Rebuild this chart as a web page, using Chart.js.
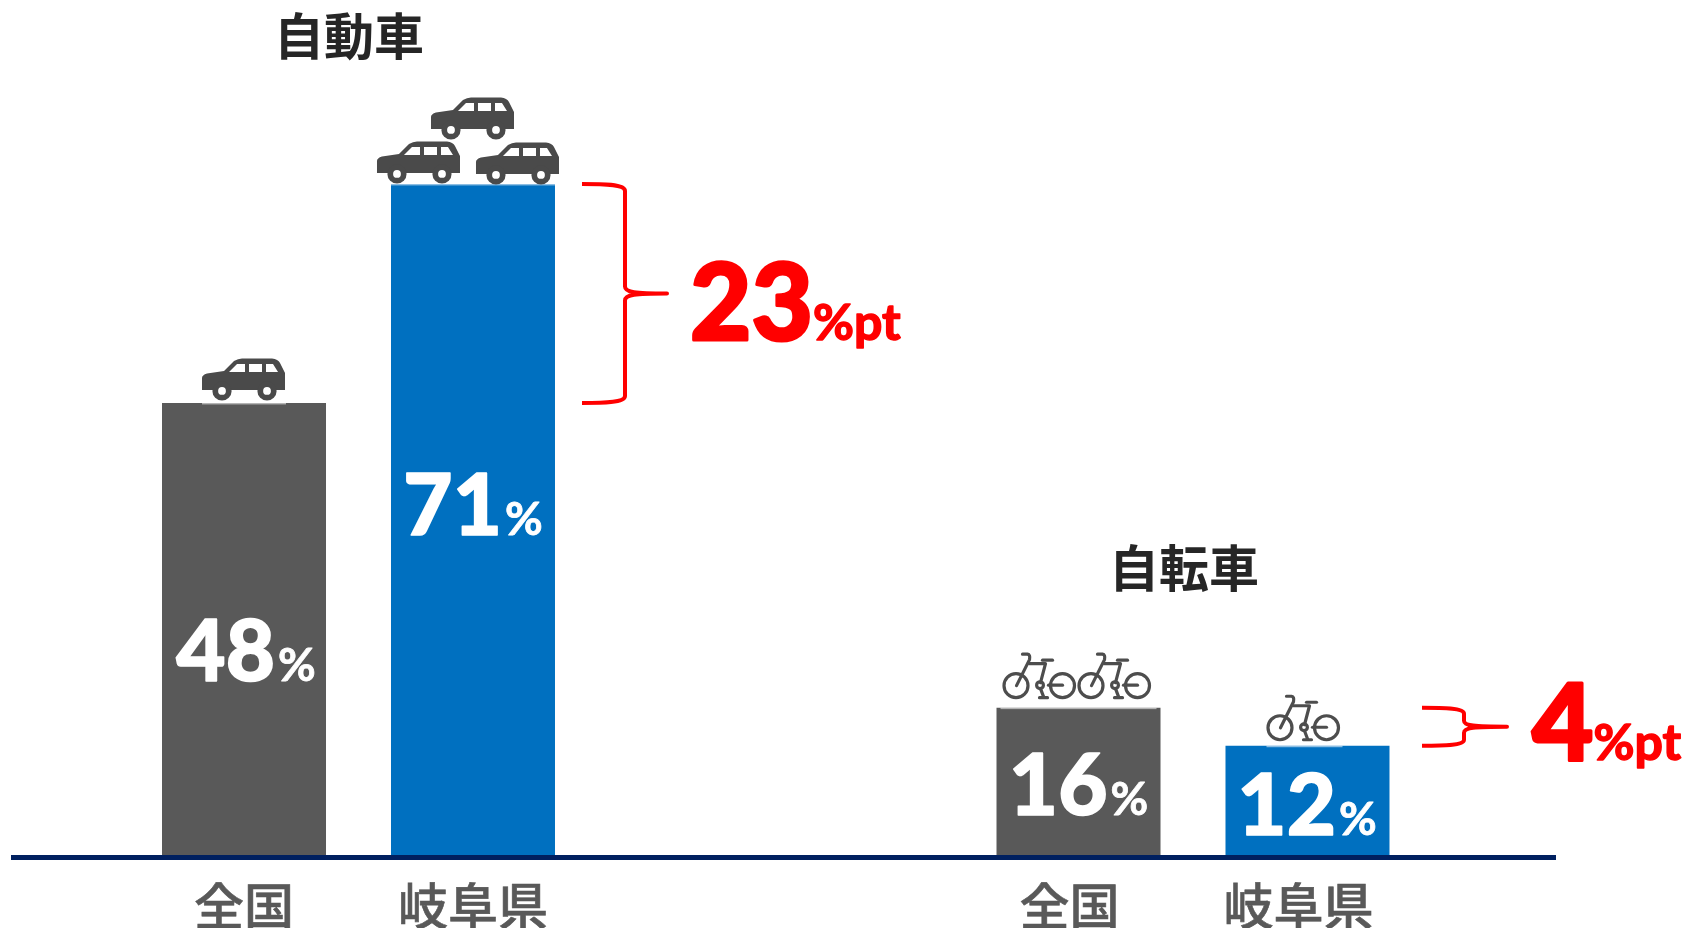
<!DOCTYPE html>
<html lang="ja"><head><meta charset="utf-8">
<script src="https://cdn.jsdelivr.net/npm/chart.js@4"></script>
<style>html,body{margin:0;padding:0;background:#fff;overflow:hidden}canvas{display:block}</style>
</head><body><canvas id="c" width="1688" height="928"></canvas>
<script>
// ---- data ----
const groups = ['自動車', '自転車'];
const seriesNames = ['全国', '岐阜県'];
const nationalValues = [48, 16];
const gifuValues = [71, 12];
const gapValues = [23, 4];
const nationalIcons = [1, 2];
const gifuIcons = [3, 1];

// ---- styles ----
const GRAY = '#595959', BLUE = '#0070C0', NAVY = '#002060', RED = '#FF0000';
const LATIN = 'Lato, "Open Sans", sans-serif';
const CJK = '"Noto Sans CJK JP", sans-serif';

const carBody = new Path2D('M0 20 Q0 17 5 15.5 L22 13 L32 3 Q36 0.5 40 0.5 L70 0.5 Q76 1 78 5 L83 15 L83 32 L0 32 Z');
const carWindows = new Path2D('M27 14 L35 6 L43 6 L43 14 Z M47 6 L60 6 L60 14 L47 14 Z M64 6 L71 6 L76 14 L64 14 Z');
function drawCar(ctx, x, y) {
  ctx.save(); ctx.translate(x, y);
  ctx.fillStyle = '#4A4A4A'; ctx.fill(carBody);
  ctx.fillStyle = '#fff'; ctx.fill(carWindows);
  [20, 65].forEach(w => {
    ctx.fillStyle = '#4A4A4A'; ctx.beginPath(); ctx.arc(w, 33, 9.6, 0, 7); ctx.fill();
    ctx.fillStyle = '#fff'; ctx.beginPath(); ctx.arc(w, 33, 3.9, 0, 7); ctx.fill();
  });
  ctx.restore();
}
function drawBike(ctx, x, y) {
  ctx.save(); ctx.translate(x, y);
  ctx.strokeStyle = '#4D4D4D'; ctx.lineWidth = 3.2; ctx.lineCap = 'round'; ctx.lineJoin = 'round';
  const p = d => ctx.stroke(new Path2D(d));
  ctx.beginPath(); ctx.arc(13.5, 33, 12, 0, 7); ctx.stroke();
  ctx.beginPath(); ctx.arc(60, 33, 12, 0, 7); ctx.stroke();
  p('M20 1.5 L25 1.5 Q28 2 27 7 L14 33');
  p('M27 11 L43 11 L38 30');
  p('M40 7.5 L50 7.5');
  ctx.beginPath(); ctx.arc(37.5, 32.5, 3.4, 0, 7); ctx.stroke();
  p('M38 36 L41 44 M37 45 L45 45');
  p('M46 32.5 L60 32.5');
  ctx.restore();
}
function drawBrace(ctx, xL, xM, xT, yTop, yBot, r) {
  const yMid = (yTop + yBot) / 2;
  ctx.save(); ctx.strokeStyle = RED; ctx.lineWidth = 4; ctx.lineJoin = 'round';
  ctx.beginPath();
  ctx.moveTo(xL, yTop);
  ctx.bezierCurveTo(xL + 20, yTop, xM, yTop, xM, yTop + r);
  ctx.lineTo(xM, yMid - r);
  ctx.bezierCurveTo(xM, yMid - 1, xM + 10, yMid, xT, yMid);
  ctx.bezierCurveTo(xM + 10, yMid, xM, yMid + 1, xM, yMid + r);
  ctx.lineTo(xM, yBot - r);
  ctx.bezierCurveTo(xM, yBot, xL + 20, yBot, xL, yBot);
  ctx.stroke(); ctx.restore();
}
function centered(ctx, text, x, y, font, color, outline) {
  ctx.font = font; ctx.fillStyle = color; ctx.textAlign = 'center'; ctx.textBaseline = 'alphabetic';
  ctx.fillText(text, x, y);
  if (outline) { ctx.strokeStyle = color; ctx.lineWidth = outline; ctx.strokeText(text, x, y); }
}
function pair(ctx, big, small, cx, base, bigPx, smallPx, color, bold, left, gap = 3) {
  ctx.textAlign = 'left'; ctx.textBaseline = 'alphabetic'; ctx.fillStyle = color; ctx.strokeStyle = color;
  ctx.lineJoin = 'round';
  const bf = `900 ${bigPx}px ${LATIN}`, sf = `700 ${smallPx}px ${LATIN}`;
  ctx.font = bf; const bw = ctx.measureText(big).width;
  ctx.font = sf; const sw = ctx.measureText(small).width;
  const x0 = left !== undefined ? left : cx - (bw + sw + gap) / 2;
  ctx.font = bf; ctx.fillText(big, x0, base);
  ctx.lineWidth = bold; ctx.strokeText(big, x0, base);
  ctx.font = sf; ctx.fillText(small, x0 + bw + gap, base);
  ctx.lineWidth = bold / 2; ctx.strokeText(small, x0 + bw + gap, base);
}

const overlay = {
  id: 'overlay',
  afterDatasetsDraw(chart) {
    const ctx = chart.ctx, yS = chart.scales.y;
    const m0 = chart.getDatasetMeta(0).data, m1 = chart.getDatasetMeta(1).data;
    const y0 = yS.getPixelForValue(0);

    // pale seam left where each pictogram meets its bar
    ctx.fillStyle = 'rgba(255,255,255,0.55)';
    ctx.fillRect(m0[0].x - 42, m0[0].y, 84, 1.5);
    ctx.fillRect(m1[0].x - 82, m1[0].y, 164, 1.5);
    ctx.fillRect(m0[1].x - 78, m0[1].y, 156, 1.5);
    ctx.fillRect(m1[1].x - 41, m1[1].y, 76, 1.5);

    // baseline
    ctx.fillStyle = NAVY; ctx.fillRect(11, y0 - 5, 1545, 5);

    // group titles
    centered(ctx, groups[0], 349, 55, `700 50px ${CJK}`, '#262626');
    centered(ctx, groups[1], 1184, 587, `700 50px ${CJK}`, '#262626');

    // category labels under the bars
    const labelShift = [0, -9];
    [0, 1].forEach(g => {
      centered(ctx, seriesNames[0], m0[g].x + labelShift[g], 925, `500 50px ${CJK}`, GRAY, 0.6);
      centered(ctx, seriesNames[1], m1[g].x + labelShift[g], 925, `500 50px ${CJK}`, GRAY, 0.6);
    });

    // value labels inside the bars
    const baseN = [681, 815], baseG = [535, 835];
    const shiftN = [2, 0], shiftG = [0, -0.5];
    [0, 1].forEach(g => {
      pair(ctx, String(nationalValues[g]), '%', m0[g].x + shiftN[g], baseN[g], 85, 46, '#fff', 1.6);
      pair(ctx, String(gifuValues[g]), '%', m1[g].x + shiftG[g], baseG[g], 85, 46, '#fff', 1.6);
    });

    // pictograms
    for (let i = 0; i < nationalIcons[0]; i++) drawCar(ctx, m0[0].x - 42, m0[0].y - 45);
    const bTop = m1[0].y, bX = m1[0].x;
    drawCar(ctx, bX - 96, bTop - 43);
    drawCar(ctx, bX + 3, bTop - 42);
    drawCar(ctx, bX - 42, bTop - 87);
    drawBike(ctx, m0[1].x - 76, m0[1].y - 55);
    drawBike(ctx, m0[1].x - 1, m0[1].y - 55);
    drawBike(ctx, m1[1].x - 41, m1[1].y - 51);

    // difference braces and labels
    drawBrace(ctx, 582, 625, 667, yS.getPixelForValue(gifuValues[0]), yS.getPixelForValue(nationalValues[0]), 7);
    pair(ctx, String(gapValues[0]), '%pt', 0, 340, 106, 50, RED, 3, 690, 0);
    drawBrace(ctx, 1422, 1464, 1507, yS.getPixelForValue(nationalValues[1]), yS.getPixelForValue(gifuValues[1]), 6);
    pair(ctx, String(gapValues[1]), '%pt', 0, 760, 106, 50, RED, 3, 1532, 0);
  }
};

new Chart(document.getElementById('c'), {
  type: 'bar',
  data: {
    labels: groups,
    datasets: [
      { label: seriesNames[0], data: nationalValues, backgroundColor: GRAY, clip: false },
      { label: seriesNames[1], data: gifuValues, backgroundColor: BLUE, clip: false }
    ]
  },
  options: {
    responsive: false,
    animation: false,
    layout: { padding: { left: 358.5, right: 495, top: 3, bottom: 68 } },
    categoryPercentage: 0.5488,
    barPercentage: 0.7162,
    plugins: { legend: { display: false }, tooltip: { enabled: false }, title: { display: false } },
    scales: {
      x: { type: 'category', offset: false, display: false },
      y: { min: 0, max: 90, display: false }
    }
  },
  plugins: [overlay]
});
</script></body></html>
